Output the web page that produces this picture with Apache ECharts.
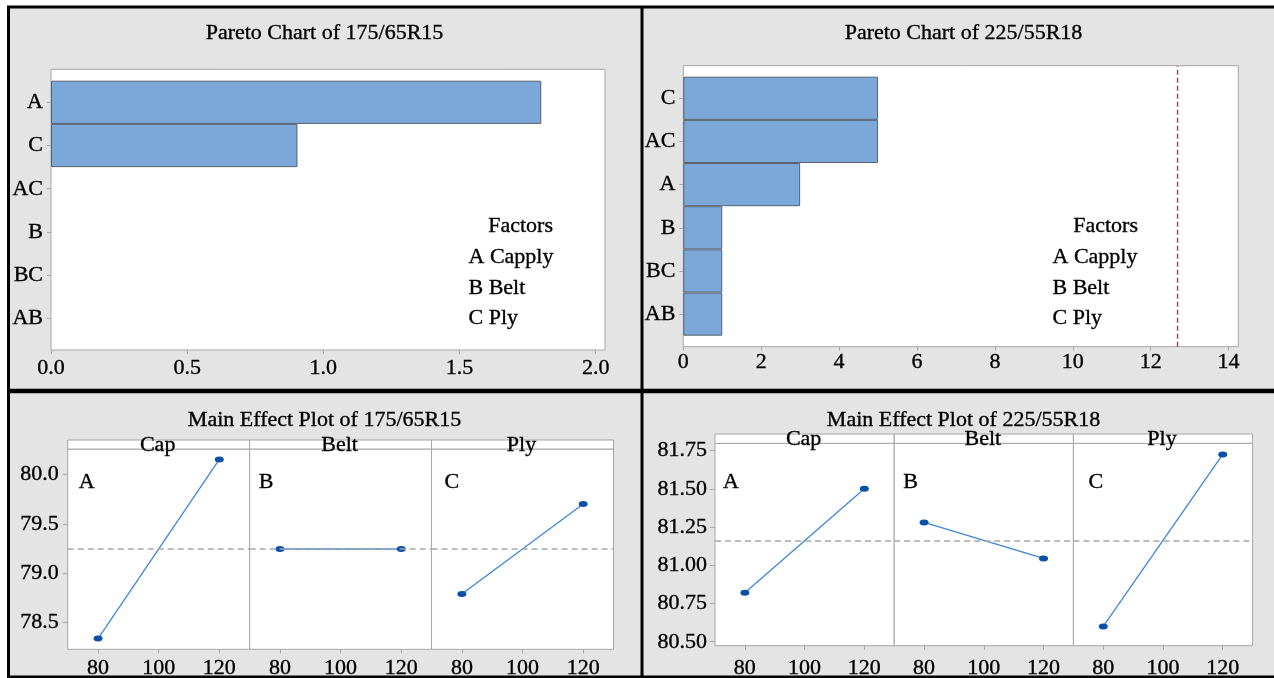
<!DOCTYPE html>
<html>
<head>
<meta charset="utf-8">
<script src="https://cdn.jsdelivr.net/npm/echarts@6/dist/echarts.min.js"></script>
<style>
  html, body { margin: 0; padding: 0; background: #fff; }
  #chart { width: 1274px; height: 678px; }
</style>
</head>
<body>
<div id="chart"></div>
<script>
// ---- Pareto of effects, 175/65R15 ----
const pareto1Terms = ['A', 'C', 'AC', 'B', 'BC', 'AB'];
const pareto1Effects = [1.80, 0.905, 0, 0, 0, 0];
const pareto1Ticks = [0, 0.5, 1.0, 1.5, 2.0];

// ---- Pareto of effects, 225/55R18 ----
const pareto2Terms = ['C', 'AC', 'A', 'B', 'BC', 'AB'];
const pareto2Effects = [5.0, 5.0, 3.0, 1.0, 1.0, 1.0];
const pareto2Ticks = [0, 2, 4, 6, 8, 10, 12, 14];
const pareto2Critical = 12.69;

// ---- Factors ----
const factorNames = ['Cap', 'Belt', 'Ply'];
const factorLetters = ['A', 'B', 'C'];
const factorLegend = ['A Capply', 'B Belt', 'C Ply'];
const levels = [80, 120];
const levelTicks = [80, 100, 120];

// ---- Main effect means, 175/65R15 ----
const main1Cap = [78.34, 80.15];
const main1Belt = [79.245, 79.245];
const main1Ply = [78.79, 79.70];
const main1Ticks = [78.5, 79.0, 79.5, 80.0];

// ---- Main effect means, 225/55R18 ----
const main2Cap = [80.82, 81.50];
const main2Belt = [81.28, 81.045];
const main2Ply = [80.60, 81.725];
const main2Ticks = [80.50, 80.75, 81.00, 81.25, 81.50, 81.75];

const FONT = 'Liberation Serif';
const FS = 22;
const FRAME = '#a6a6a6';
const PANEL_BG = '#e4e4e4';
const INK = 0.35; // slight stroke so the serif text reads a little heavier

const grid = [], xAxis = [], yAxis = [], series = [], graphic = [];

function text(str, x, y, align, size) {
  graphic.push({
    type: 'text', z: 100, silent: true,
    style: {
      text: str, x: x, y: y,
      font: (size || FS) + 'px "' + FONT + '"',
      fill: '#000', stroke: '#000', lineWidth: INK,
      textAlign: align || 'center', align: align || 'center',
      textVerticalAlign: 'middle', verticalAlign: 'middle'
    }
  });
}

function labelStyle(extra) {
  return Object.assign({ fontFamily: FONT, fontSize: FS, color: '#000',
    textBorderColor: '#000', textBorderWidth: INK }, extra);
}

function addPareto(cfg) {
  // outer frame carrying the effect scale
  const f = grid.length;
  grid.push({ left: cfg.left, top: cfg.top, width: cfg.width, height: cfg.height,
    show: true, backgroundColor: '#fff', borderColor: FRAME, borderWidth: 1,
    outerBoundsMode: 'none', containLabel: false });
  xAxis.push({ gridIndex: f, type: 'value', min: 0, max: cfg.max,
    axisLine: { show: false },
    axisTick: { show: true, customValues: cfg.ticks, length: 4, lineStyle: { color: FRAME } },
    axisLabel: labelStyle({ customValues: cfg.ticks, margin: cfg.labelMargin, formatter: cfg.fmt }),
    splitLine: { show: false } });
  yAxis.push({ gridIndex: f, type: 'value', min: 0, max: 1, show: false });

  // inner band holding the bars
  const d = grid.length;
  grid.push({ left: cfg.left, top: cfg.barTop, width: cfg.width, height: cfg.barHeight,
    show: false, outerBoundsMode: 'none', containLabel: false });
  xAxis.push({ gridIndex: d, type: 'value', min: 0, max: cfg.max, show: false });
  yAxis.push({ gridIndex: d, type: 'category', inverse: true, data: cfg.terms,
    axisLine: { show: false },
    axisTick: { show: true, alignWithLabel: true, length: 4, lineStyle: { color: FRAME } },
    axisLabel: labelStyle({ margin: 8, interval: 0 }),
    splitLine: { show: false } });
  series.push({ type: 'bar', xAxisIndex: d, yAxisIndex: d,
    data: cfg.values.map(v => (v === 0 ? '-' : v)),
    barCategoryGap: '0%', barGap: '0%',
    itemStyle: { color: '#7ba7d9', borderColor: '#56626e', borderWidth: 1 } });

  if (cfg.critical != null) {
    series.push({ type: 'line', xAxisIndex: f, yAxisIndex: f, symbol: 'none', silent: true,
      data: [[cfg.critical, 0], [cfg.critical, 1]],
      lineStyle: { color: '#e3343a', width: 1.5, type: [5, 3] } });
  }

  text(cfg.title, cfg.titleX, cfg.titleY);
  text('Factors', cfg.legendRight, 226, 'right');
  factorLegend.forEach((s, i) => text(s, cfg.legendLeft, [257.5, 288, 318][i], 'left'));
}

function addMainEffects(cfg) {
  const all = cfg.values.flat();
  const grand = all.reduce((a, b) => a + b, 0) / all.length;
  cfg.values.forEach((vals, i) => {
    const g = grid.length;
    const left = cfg.left + i * cfg.panelW;
    grid.push({ left: left, top: cfg.top + cfg.stripH, width: cfg.panelW, height: cfg.height,
      show: true, backgroundColor: '#fff', borderColor: FRAME, borderWidth: 1,
      outerBoundsMode: 'none', containLabel: false });
    xAxis.push({ gridIndex: g, type: 'value', min: 70, max: 130,
      axisLine: { show: false },
      axisTick: { show: true, customValues: levelTicks, length: 4, lineStyle: { color: FRAME } },
      axisLabel: labelStyle({ customValues: levelTicks, margin: cfg.xMargin }),
      splitLine: { show: false } });
    yAxis.push({ gridIndex: g, type: 'value', min: cfg.yMin, max: cfg.yMax,
      axisLine: { show: false },
      axisTick: { show: i === 0, customValues: cfg.ticks, length: 5, lineStyle: { color: FRAME } },
      axisLabel: labelStyle({ show: i === 0, customValues: cfg.ticks, margin: cfg.yMargin, formatter: cfg.fmt }),
      splitLine: { show: false } });
    series.push({ type: 'line', xAxisIndex: g, yAxisIndex: g,
      data: levels.map((x, k) => [x, vals[k]]),
      symbol: 'circle', symbolSize: [9, 6],
      lineStyle: { color: '#3f86d6', width: 1.3 },
      itemStyle: { color: '#0b4fa6' },
      markLine: { silent: true, symbol: ['none', 'none'], label: { show: false },
        data: [{ yAxis: grand }],
        lineStyle: { color: '#a6a6a6', type: [6, 4], width: 1.5 } } });

    // factor strip on top of each panel
    graphic.push({ type: 'rect', z: 5, silent: true,
      shape: { x: left, y: cfg.top, width: cfg.panelW, height: cfg.stripH },
      style: { fill: '#fff', stroke: FRAME, lineWidth: 1 } });
    text(factorNames[i], left + cfg.panelW / 2 - 1, cfg.stripTextY);
    text(factorLetters[i], left + cfg.letterDx[i], cfg.letterY, 'left');
  });
  text(cfg.title, cfg.titleX, cfg.titleY);
}

// panel backgrounds and black separating rules
graphic.push({ type: 'rect', z: -10, silent: true,
  shape: { x: 8, y: 7, width: 1266, height: 671 }, style: { fill: PANEL_BG } });

addPareto({ left: 51, top: 69.3, width: 554, height: 280.7, barTop: 80.7, barHeight: 259.3,
  max: 2.034, ticks: pareto1Ticks, fmt: v => v.toFixed(1), labelMargin: 7,
  terms: pareto1Terms, values: pareto1Effects,
  title: 'Pareto Chart of 175/65R15', titleX: 324.5, titleY: 33,
  legendLeft: 468.5, legendRight: 553 });

addPareto({ left: 683.3, top: 65.7, width: 555, height: 281, barTop: 76.7, barHeight: 259,
  max: 14.25, ticks: pareto2Ticks, fmt: v => String(v), labelMargin: 5,
  terms: pareto2Terms, values: pareto2Effects, critical: pareto2Critical,
  title: 'Pareto Chart of 225/55R18', titleX: 963.5, titleY: 33,
  legendLeft: 1052.5, legendRight: 1138 });

addMainEffects({ left: 67.7, top: 440, stripH: 9, panelW: 181.93, height: 200.3,
  yMin: 78.231, yMax: 80.256, ticks: main1Ticks, fmt: v => v.toFixed(1),
  xMargin: 8, yMargin: 9,
  values: [main1Cap, main1Belt, main1Ply],
  stripTextY: 445, letterY: 482.5, letterDx: [11, 9, 13],
  title: 'Main Effect Plot of 175/65R15', titleX: 324.5, titleY: 420 });

addMainEffects({ left: 715, top: 434, stripH: 9.3, panelW: 179.2, height: 202.4,
  yMin: 80.474, yMax: 81.798, ticks: main2Ticks, fmt: v => v.toFixed(2),
  xMargin: 12, yMargin: 8,
  values: [main2Cap, main2Belt, main2Ply],
  stripTextY: 439.5, letterY: 482, letterDx: [8, 9, 15],
  title: 'Main Effect Plot of 225/55R18', titleX: 963.5, titleY: 420 });

[
  [[7, 7], [1274, 7], 3],
  [[8.5, 7], [8.5, 678], 3],
  [[642, 7], [642, 678], 3],
  [[7, 391], [1274, 391], 4.5],
  [[7, 677], [1274, 677], 3]
].forEach(([a, b, w]) => graphic.push({ type: 'line', z: 200, silent: true,
  shape: { x1: a[0], y1: a[1], x2: b[0], y2: b[1] },
  style: { stroke: '#000', lineWidth: w } }));

const chart = echarts.init(document.getElementById('chart'), null, { renderer: 'canvas' });
chart.setOption({
  animation: false,
  backgroundColor: '#fff',
  textStyle: { fontFamily: FONT },
  grid, xAxis, yAxis, series, graphic
});
</script>
</body>
</html>
